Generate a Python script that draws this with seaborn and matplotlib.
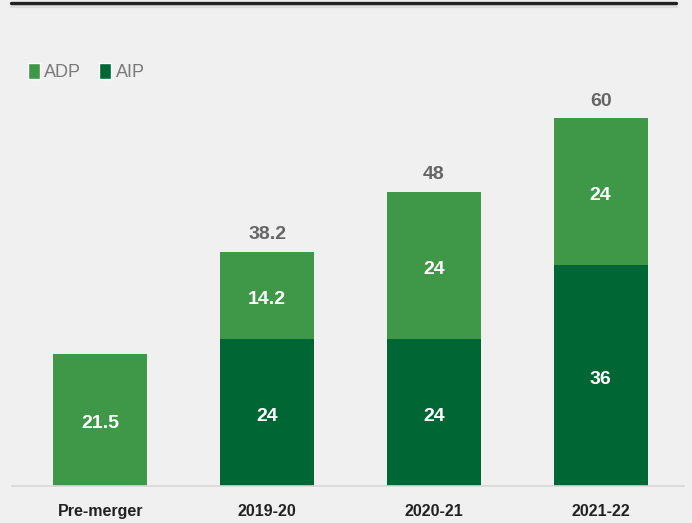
import seaborn as sns
import pandas as pd
import matplotlib.pyplot as plt
from matplotlib.patches import Patch
from matplotlib.lines import Line2D

# values
periods = ["Pre-merger", "2019-20", "2020-21", "2021-22"]
adp = [21.5, 14.2, 24, 24]
aip = [0, 24, 24, 36]
totals = [None, 38.2, 48, 60]

light_green = "#3f9848"
dark_green = "#006633"
bg = "#f0f0f0"

df = pd.DataFrame({"Period": periods, "ADP": adp, "AIP": aip})
df["Total"] = df["ADP"] + df["AIP"]

sns.set_style("white")
plt.rcParams["font.family"] = ["Liberation Sans", "DejaVu Sans"]

fig = plt.figure(figsize=(6.92, 5.23), dpi=100, facecolor=bg)
ax = fig.add_axes([12 / 692, 37 / 523, 672 / 692, 429 / 523])
ax.set_facecolor(bg)

# stacked bars: full height in ADP colour, AIP drawn over the bottom part
sns.barplot(data=df, x="Period", y="Total", color=light_green, width=0.563,
            saturation=1, linewidth=0, ax=ax)
sns.barplot(data=df, x="Period", y="AIP", color=dark_green, width=0.563,
            saturation=1, linewidth=0, ax=ax)

for i in range(len(periods)):
    if aip[i] > 0:
        ax.text(i, aip[i] / 2 - 0.3, f"{aip[i]:g}", ha="center",
                va="center_baseline", color="white", fontsize=14,
                fontweight="bold")
    ax.text(i, aip[i] + adp[i] / 2 - 0.3, f"{adp[i]:g}", ha="center",
            va="center_baseline", color="white", fontsize=14, fontweight="bold")
    if totals[i] is not None:
        ax.text(i, totals[i] + 3.1, f"{totals[i]:g}", ha="center",
                va="center_baseline", color="#666666", fontsize=14,
                fontweight="bold")

ax.set_xlim(-0.53, 3.5)
ax.set_ylim(0, 70)
ax.set_xlabel("")
ax.set_ylabel("")
ax.set_yticks([])
ax.tick_params(axis="x", length=0, pad=13, labelsize=11.5, labelcolor="#222222")
for lbl in ax.get_xticklabels():
    lbl.set_fontweight("bold")
for side in ["top", "left", "right"]:
    ax.spines[side].set_visible(False)
ax.spines["bottom"].set_color("#d9d9d9")
ax.spines["bottom"].set_linewidth(1.2)

handles = [Patch(facecolor=light_green, label="ADP"),
           Patch(facecolor=dark_green, label="AIP")]
fig.legend(handles=handles, loc="upper left", bbox_to_anchor=(0.03, 0.893),
           ncol=2, frameon=False, fontsize=13, labelcolor="#7a7a7a",
           handlelength=0.65, handleheight=1.0, handletextpad=0.25,
           columnspacing=1.0, borderaxespad=0)

# dark rule along the top with a faint shadow
fig.add_artist(Line2D([12 / 692, 676 / 692], [1 - 6 / 523] * 2,
                      color="#dcdcdc", lw=3, transform=fig.transFigure))
fig.add_artist(Line2D([11 / 692, 676 / 692], [1 - 3 / 523] * 2,
                      color="#222222", lw=2.4, transform=fig.transFigure))

fig.savefig("out.png", dpi=100, facecolor=bg)
